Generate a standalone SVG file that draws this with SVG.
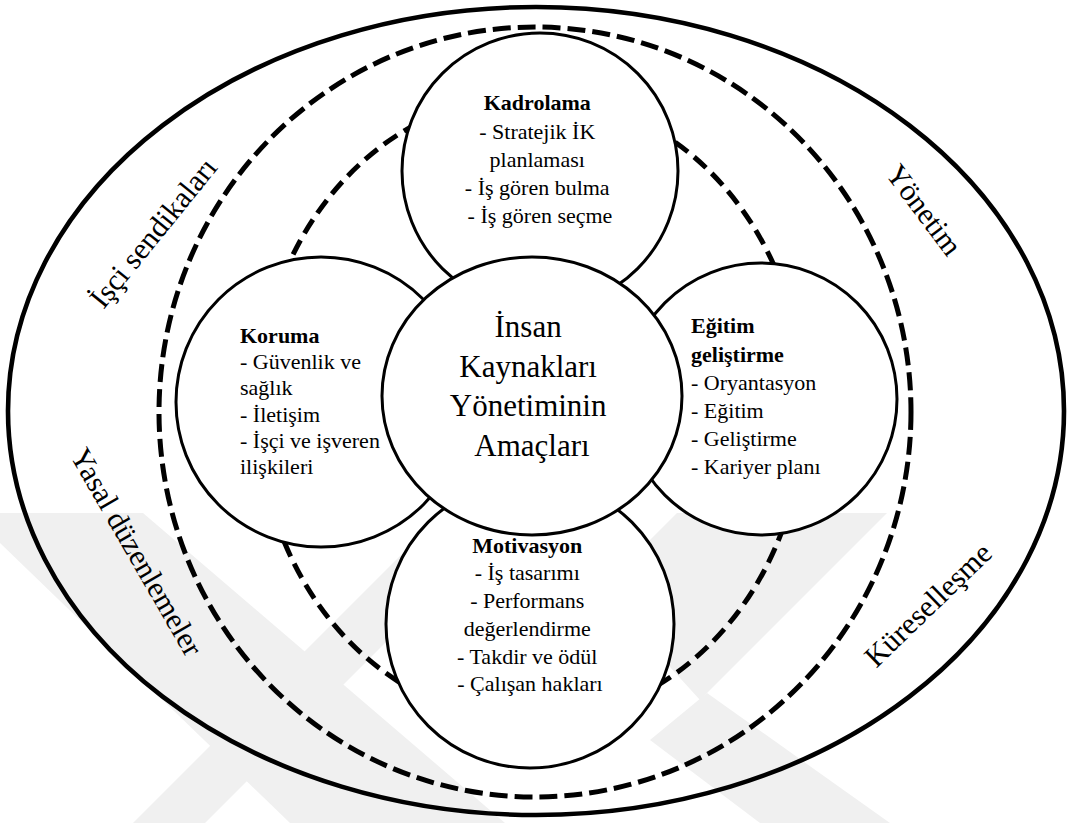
<svg xmlns="http://www.w3.org/2000/svg" width="1068" height="823" viewBox="0 0 1068 823">
<style>
.wm{fill:#f0f0f0;stroke:none}
.solid{fill:none;stroke:#000;stroke-width:4.6}
.dash{fill:none;stroke:#000;stroke-width:5;stroke-dasharray:18 7}
.dash2{fill:none;stroke:#000;stroke-width:5;stroke-dasharray:16 8}
.node{fill:#fff;stroke:#000;stroke-width:3}
text{font-family:"Liberation Serif","DejaVu Serif",serif;fill:#000}
.t{font-size:22px}
.b{font-weight:bold}
.big{font-size:31px}
.lab{font-size:30px}
</style>
<rect width="1068" height="823" fill="#fff"/>
<g id="watermark">
<polygon class="wm" points="0,513 143,513 505,823 290,823 0,543"/>
<polygon class="wm" points="133,823 205,823 450,578 405,551"/>
<polygon class="wm" points="677,513 887,513 700,700 600,590"/>
<polygon class="wm" points="707,693 890,823 760,823 650,740"/>
</g>
<g id="connectors">
<ellipse id="outer" class="solid" cx="536" cy="411" rx="528" ry="404"/>
<ellipse id="dashed-outer" class="dash" cx="535" cy="412" rx="376" ry="385"/>
<ellipse id="dashed-inner" class="dash2" cx="531" cy="408" rx="273" ry="313"/>
</g>
<g id="kadrolama">
<circle class="node" cx="540" cy="171" r="138"/>
<text class="t" text-anchor="middle">
<tspan class="b" x="540" y="110">Kadrolama</tspan>
<tspan x="540" y="139">- Stratejik İK</tspan>
<tspan x="540" y="167">planlaması</tspan>
<tspan x="540" y="195">- İş gören bulma</tspan>
<tspan x="540" y="223">- İş gören seçme</tspan>
</text>
</g>
<g id="koruma">
<circle class="node" cx="321" cy="402" r="145"/>
<text class="t">
<tspan class="b" x="240" y="343">Koruma</tspan>
<tspan x="240" y="369">- Güvenlik ve</tspan>
<tspan x="240" y="395">sağlık</tspan>
<tspan x="240" y="422">- İletişim</tspan>
<tspan x="240" y="448">- İşçi ve işveren</tspan>
<tspan x="240" y="474">ilişkileri</tspan>
</text>
</g>
<g id="egitim">
<circle class="node" cx="761" cy="399" r="136"/>
<text class="t">
<tspan class="b" x="691" y="333">Eğitim</tspan>
<tspan class="b" x="691" y="362">geliştirme</tspan>
<tspan x="691" y="390">- Oryantasyon</tspan>
<tspan x="691" y="418">- Eğitim</tspan>
<tspan x="691" y="446">- Geliştirme</tspan>
<tspan x="691" y="474">- Kariyer planı</tspan>
</text>
</g>
<g id="motivasyon">
<circle class="node" cx="530" cy="624" r="144"/>
<text class="t" text-anchor="middle">
<tspan class="b" x="530" y="553">Motivasyon</tspan>
<tspan x="530" y="580">- İş tasarımı</tspan>
<tspan x="530" y="608">- Performans</tspan>
<tspan x="530" y="636">değerlendirme</tspan>
<tspan x="530" y="664">- Takdir ve ödül</tspan>
<tspan x="530" y="691">- Çalışan hakları</tspan>
</text>
</g>
<g id="center">
<ellipse class="node" cx="532" cy="396" rx="150" ry="139"/>
<text class="big" text-anchor="middle">
<tspan x="532" y="337">İnsan</tspan>
<tspan x="532" y="377">Kaynakları</tspan>
<tspan x="532" y="416">Yönetiminin</tspan>
<tspan x="532" y="456">Amaçları</tspan>
</text>
</g>
<g id="labels">
<text class="lab" text-anchor="middle" transform="translate(161,239) rotate(-51)">İşçi sendikaları</text>
<text class="lab" text-anchor="middle" transform="translate(916,216) rotate(53)">Yönetim</text>
<text class="lab" text-anchor="middle" transform="translate(128,557) rotate(60)" font-size="31">Yasal düzenlemeler</text>
<text class="lab" text-anchor="middle" transform="translate(935,612) rotate(-44)">Küreselleşme</text>
</g>
</svg>
